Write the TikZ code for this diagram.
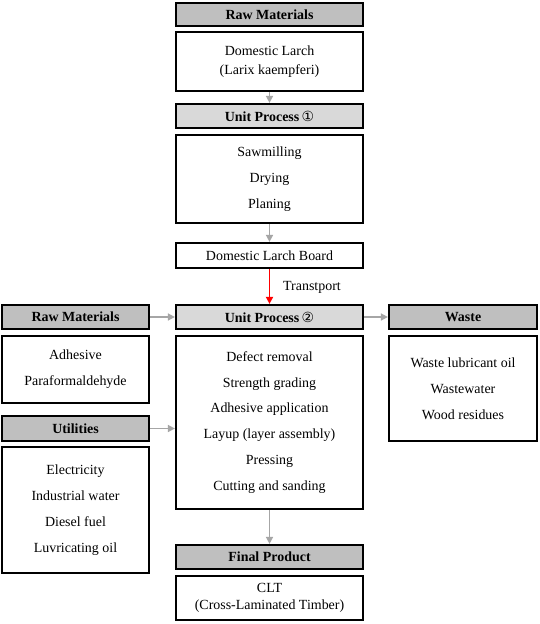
\documentclass[tikz,border=0pt]{standalone}
\usepackage{fontspec}
\setmainfont{Liberation Serif}
\newfontfamily\circfont{DejaVu Sans}
\usetikzlibrary{arrows.meta}
\definecolor{hdrdark}{HTML}{BFBFBF}
\definecolor{hdrlight}{HTML}{D9D9D9}
\definecolor{arrgray}{HTML}{A6A6A6}
\tikzset{
  box/.style={draw=black, line width=2.2bp, fill=white, inner sep=0pt, align=center,
    font=\fontsize{14}{26}\selectfont},
  hdrbox/.style={box, fill=hdrdark, font=\bfseries\fontsize{14}{16}\selectfont},
  uphdr/.style={box, fill=hdrlight, font=\bfseries\fontsize{14}{16}\selectfont},
  garrow/.style={draw=arrgray, line width=1.5bp, -{Triangle[length=7bp,width=7bp]}},
  rarrow/.style={draw=red, line width=1.7bp, -{Triangle[length=7bp,width=7bp]}},
  midcol/.style={minimum width=187bp},
  leftcol/.style={minimum width=147bp},
  rightcol/.style={minimum width=148bp}
}
\begin{document}
\begin{tikzpicture}[x=1bp,y=-1bp]
\useasboundingbox[fill=white] (0,0) rectangle (540,624);
% centre column
\node[hdrbox, midcol, minimum height=23bp] (rm1) at (269.5,14.5) {Raw Materials};
\node[box, midcol, minimum height=59bp, font=\fontsize{14}{19}\selectfont] (larch) at (269.5,61.5) {Domestic Larch\\(Larix kaempferi)};
\node[uphdr, midcol, minimum height=24bp] (up1) at (269.5,116) {Unit Process\,{\circfont\mdseries ①}};
\node[box, midcol, minimum height=88bp] (up1box) at (269.5,179) {Sawmilling\\Drying\\Planing};
\node[box, midcol, minimum height=25bp] (board) at (269.5,255.5) {Domestic Larch Board};
\node[uphdr, midcol, minimum height=24bp] (up2) at (269.5,317) {Unit Process\,{\circfont\mdseries ②}};
\node[box, midcol, minimum height=173bp] (up2box) at (269.5,422.5) {Defect removal\\Strength grading\\Adhesive application\\Layup (layer assembly)\\Pressing\\Cutting and sanding};
\node[hdrbox, midcol, minimum height=24bp] (final) at (269.5,557) {Final Product};
\node[box, midcol, minimum height=44bp, font=\fontsize{14}{17}\selectfont] (clt) at (269.5,598) {CLT\\(Cross-Laminated Timber)};
% left column
\node[hdrbox, leftcol, minimum height=24bp] (rm2) at (75.5,317) {Raw Materials};
\node[box, leftcol, minimum height=67bp] (rm2box) at (75.5,369.5) {Adhesive\\Paraformaldehyde};
\node[hdrbox, leftcol, minimum height=25bp] (util) at (75.5,428.5) {Utilities};
\node[box, leftcol, minimum height=126bp] (utilbox) at (75.5,510) {Electricity\\Industrial water\\Diesel fuel\\Luvricating oil};
% right column
\node[hdrbox, rightcol, minimum height=24bp] (waste) at (463,317) {Waste};
\node[box, rightcol, minimum height=105bp] (wastebox) at (463,388.5) {Waste lubricant oil\\Wastewater\\Wood residues};
% transport label
\node[anchor=west, font=\fontsize{14}{16}\selectfont, inner sep=0pt] (transp) at (283,287) {Transtport};
% connectors
\draw[garrow] (larch.south) -- (up1.north);
\draw[garrow] (up1box.south) -- (board.north);
\draw[rarrow] (board.south) -- (up2.north);
\draw[garrow] (up2box.south) -- (final.north);
\draw[garrow] (rm2.east) -- (up2.west);
\draw[garrow] (up2.east) -- (waste.west);
\draw[garrow] (util.east) -- (util.east -| up2box.west);
\end{tikzpicture}
\end{document}
